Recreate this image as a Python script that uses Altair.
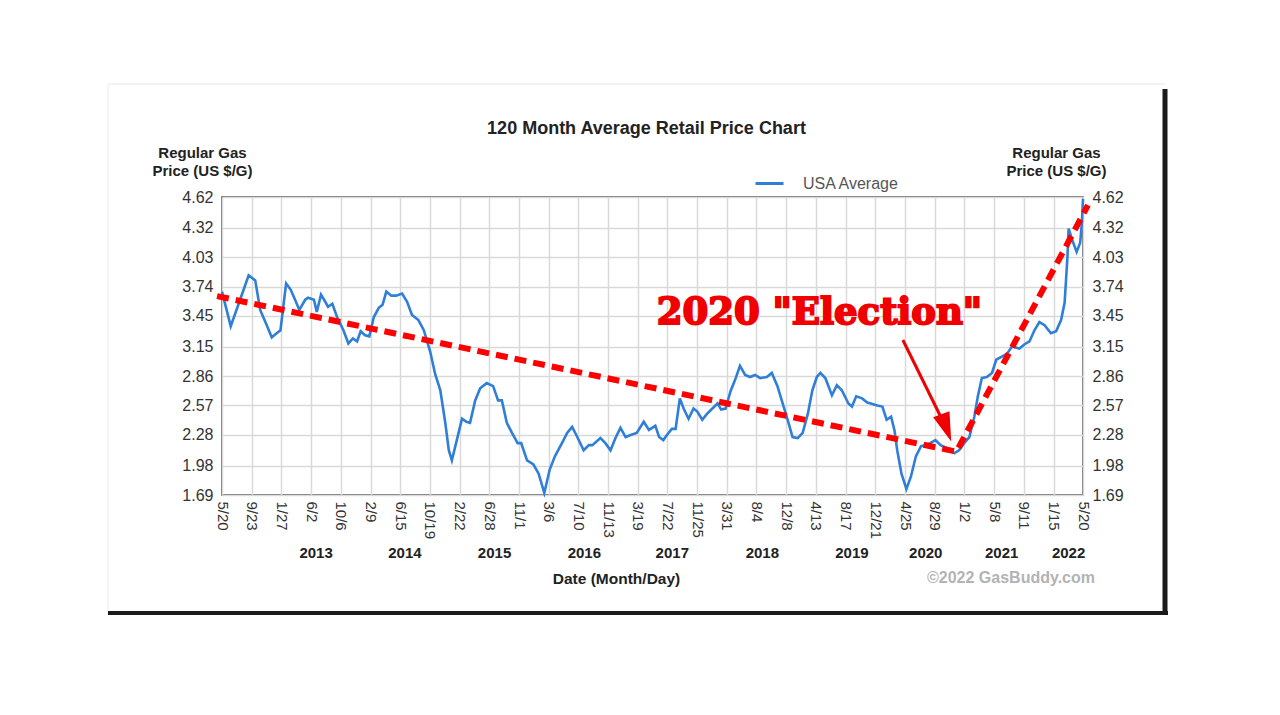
import altair as alt
import pandas as pd

FONT = "Liberation Sans"

# ---- weekly-ish USA average regular gas price ----
price_dates = [
    "2012-05-20", "2012-06-26", "2012-08-20", "2012-09-10", "2012-10-08", "2012-10-29",
    "2012-11-20", "2012-12-17", "2013-01-07", "2013-01-23", "2013-02-16", "2013-03-07",
    "2013-03-26", "2013-04-13", "2013-05-08", "2013-05-20", "2013-06-14", "2013-06-26",
    "2013-07-14", "2013-08-01", "2013-08-13", "2013-08-31", "2013-09-20", "2013-10-17",
    "2013-11-07", "2013-11-26", "2013-12-14", "2013-12-29", "2014-01-17", "2014-02-04",
    "2014-02-23", "2014-03-16", "2014-04-01", "2014-04-17", "2014-05-08", "2014-05-29",
    "2014-06-23", "2014-07-14", "2014-08-04", "2014-08-31", "2014-09-23", "2014-10-20",
    "2014-11-10", "2014-12-02", "2014-12-23", "2015-01-07", "2015-01-20", "2015-02-10",
    "2015-03-04", "2015-03-23", "2015-04-07", "2015-04-29", "2015-05-20", "2015-06-17",
    "2015-07-14", "2015-08-04", "2015-08-20", "2015-09-10", "2015-10-02", "2015-10-26",
    "2015-11-10", "2015-12-05", "2016-01-01", "2016-01-23", "2016-02-16", "2016-03-10",
    "2016-04-01", "2016-05-01", "2016-05-23", "2016-06-13", "2016-07-05", "2016-08-01",
    "2016-08-23", "2016-09-07", "2016-10-11", "2016-11-01", "2016-11-23", "2016-12-14",
    "2017-01-04", "2017-01-26", "2017-02-16", "2017-03-14", "2017-04-13", "2017-05-05",
    "2017-06-01", "2017-06-17", "2017-07-05", "2017-07-20", "2017-08-10", "2017-08-26",
    "2017-09-13", "2017-09-29", "2017-10-20", "2017-11-10", "2017-11-26", "2017-12-17",
    "2018-01-07", "2018-01-29", "2018-02-20", "2018-03-07", "2018-03-26", "2018-04-16",
    "2018-05-05", "2018-05-26", "2018-06-17", "2018-07-08", "2018-07-29", "2018-08-20",
    "2018-09-17", "2018-10-08", "2018-11-01", "2018-11-23", "2018-12-14", "2019-01-04",
    "2019-01-26", "2019-02-16", "2019-03-10", "2019-03-29", "2019-04-17", "2019-05-02",
    "2019-05-23", "2019-06-20", "2019-07-11", "2019-08-01", "2019-08-29", "2019-09-13",
    "2019-10-01", "2019-10-26", "2019-11-17", "2019-12-02", "2019-12-29", "2020-01-20",
    "2020-02-07", "2020-02-26", "2020-03-11", "2020-03-23", "2020-04-10", "2020-05-01",
    "2020-05-20", "2020-06-10", "2020-07-02", "2020-07-20", "2020-08-10", "2020-09-01",
    "2020-09-23", "2020-10-20", "2020-11-20", "2020-12-10", "2021-01-01", "2021-01-23",
    "2021-02-13", "2021-02-28", "2021-03-17", "2021-04-07", "2021-04-29", "2021-05-17",
    "2021-06-10", "2021-07-02", "2021-07-23", "2021-08-23", "2021-09-13", "2021-10-05",
    "2021-10-26", "2021-11-16", "2021-12-08", "2022-01-04", "2022-01-26", "2022-02-16",
    "2022-03-03", "2022-03-15", "2022-03-20", "2022-04-04", "2022-04-23", "2022-05-08",
    "2022-05-15", "2022-05-20",
]
price_values = [
    3.69, 3.35, 3.71, 3.85, 3.80, 3.51,
    3.39, 3.24, 3.28, 3.31, 3.77, 3.71,
    3.61, 3.51, 3.61, 3.63, 3.61, 3.49,
    3.66, 3.59, 3.54, 3.57, 3.44, 3.31,
    3.18, 3.23, 3.20, 3.30, 3.26, 3.25,
    3.44, 3.53, 3.56, 3.69, 3.65, 3.65,
    3.67, 3.59, 3.46, 3.41, 3.31, 3.10,
    2.88, 2.72, 2.40, 2.13, 2.03, 2.23,
    2.44, 2.41, 2.40, 2.62, 2.74, 2.79,
    2.76, 2.62, 2.62, 2.40, 2.30, 2.20,
    2.20, 2.03, 1.99, 1.90, 1.71, 1.94,
    2.07, 2.20, 2.30, 2.36, 2.26, 2.13,
    2.18, 2.18, 2.25, 2.20, 2.13, 2.25,
    2.35, 2.26, 2.28, 2.30, 2.41, 2.33,
    2.37, 2.26, 2.23, 2.28, 2.34, 2.34,
    2.64, 2.54, 2.44, 2.54, 2.51, 2.43,
    2.49, 2.54, 2.59, 2.53, 2.54, 2.71,
    2.82, 2.96, 2.87, 2.85, 2.87, 2.84,
    2.85, 2.89, 2.76, 2.59, 2.43, 2.26,
    2.25, 2.30, 2.49, 2.72, 2.85, 2.89,
    2.84, 2.67, 2.77, 2.72, 2.59, 2.56,
    2.66, 2.64, 2.60, 2.59, 2.57, 2.56,
    2.43, 2.46, 2.33, 2.13, 1.90, 1.75,
    1.87, 2.07, 2.17, 2.18, 2.20, 2.23,
    2.18, 2.15, 2.10, 2.13, 2.20, 2.26,
    2.46, 2.66, 2.84, 2.85, 2.89, 3.02,
    3.05, 3.08, 3.15, 3.13, 3.17, 3.20,
    3.31, 3.39, 3.36, 3.28, 3.30, 3.41,
    3.58, 4.03, 4.31, 4.20, 4.08, 4.17,
    4.36, 4.60,
]

# ---- axes ----
tick_dates = [
    "2012-05-20", "2012-09-23", "2013-01-27", "2013-06-02", "2013-10-06", "2014-02-09",
    "2014-06-15", "2014-10-19", "2015-02-22", "2015-06-28", "2015-11-01", "2016-03-06",
    "2016-07-10", "2016-11-13", "2017-03-19", "2017-07-22", "2017-11-25", "2018-03-31",
    "2018-08-04", "2018-12-08", "2019-04-13", "2019-08-17", "2019-12-21", "2020-04-25",
    "2020-08-29", "2021-01-02", "2021-05-08", "2021-09-11", "2022-01-15", "2022-05-20",
]
y_ticks = [1.69, 1.98, 2.28, 2.57, 2.86, 3.15, 3.45, 3.74, 4.03, 4.32, 4.62]
year_labels = ["2013", "2014", "2015", "2016", "2017", "2018", "2019", "2020", "2021", "2022"]
year_dates = ["2013-06-23", "2014-07-05", "2015-07-20", "2016-08-04", "2017-08-12",
              "2018-08-29", "2019-09-13", "2020-07-22", "2021-06-09", "2022-03-20"]

# ---- annotation (red dashed trend, arrow, label) ----
trend_dates = ["2012-04-29", "2020-11-29", "2022-06-10"]
trend_values = [3.646, 2.116, 4.54]
arrow_dates = ["2020-04-16", "2020-10-17"]
arrow_values = [3.214, 2.349]
label_text = ['2020 "Election"']
label_dates = ["2019-04-28"]
label_values = [3.376]


def ms(s):
    return int(pd.Timestamp(s, tz="UTC").value // 10**6)


x_scale = alt.Scale(type="utc", domain=[ms(tick_dates[0]), ms(tick_dates[-1])])
y_scale = alt.Scale(domain=[y_ticks[0], y_ticks[-1]], nice=False, zero=False)

price_df = pd.DataFrame({"date": price_dates, "value": price_values,
                         "series": ["USA Average"] * len(price_dates)})
trend_df = pd.DataFrame({"date": trend_dates, "value": trend_values})
arrow_df = pd.DataFrame({"date": arrow_dates, "value": arrow_values})
head_df = pd.DataFrame({"date": arrow_dates[-1:], "value": arrow_values[-1:]})
label_df = pd.DataFrame({"date": label_dates, "value": label_values, "text": label_text})
year_df = pd.DataFrame({"date": year_dates, "label": year_labels})
one = pd.DataFrame({"k": [0]})

y_title = ["Regular Gas", "Price (US $/G)"]

# card shadow / edges
shadow_bottom = alt.Chart(one).mark_rule(color="#1b1b1b", strokeWidth=4).encode(
    x=alt.value(-114), x2=alt.value(946), y=alt.value(416), y2=alt.value(416))
shadow_right = alt.Chart(one).mark_rule(color="#1b1b1b", strokeWidth=5).encode(
    x=alt.value(943), x2=alt.value(943), y=alt.value(-108), y2=alt.value(418))
edge_top = alt.Chart(one).mark_rule(color="#eeeeee", strokeWidth=1.5).encode(
    x=alt.value(-114), x2=alt.value(943), y=alt.value(-113), y2=alt.value(-113))
edge_left = alt.Chart(one).mark_rule(color="#f2f2f2", strokeWidth=1.5).encode(
    x=alt.value(-114), x2=alt.value(-114), y=alt.value(-113), y2=alt.value(416))

x_axis = alt.Axis(
    values=[ms(d) for d in tick_dates],
    labelExpr="utcFormat(datum.value, '%-m/%-d')",
    labelAngle=90, labelAlign="left", labelBaseline="middle", labelPadding=6,
    labelFontSize=15, labelColor="#333", labelOverlap=False, labelFlush=False,
    grid=True, orient="bottom",
    title="Date (Month/Day)", titleX=394, titleY=83, titleBaseline="middle",
    titleAlign="center", titleFontSize=15.5, titleFontWeight="bold", titleColor="#222")

X = alt.X("date:T", scale=x_scale, axis=x_axis)

line = alt.Chart(price_df).mark_line(strokeWidth=2.6).encode(
    x=X,
    y=alt.Y("value:Q", scale=y_scale, axis=alt.Axis(
        values=y_ticks, format=".2f", labelFontSize=16, labelColor="#333", labelPadding=9,
        labelOverlap=False, grid=True,
        title=y_title, titleAngle=0, titleAlign="center", titleBaseline="top",
        titleX=-20, titleY=-52, titleFontSize=15, titleFontWeight="bold",
        titleLineHeight=18, titleColor="#222")),
    color=alt.Color("series:N", scale=alt.Scale(domain=["USA Average"], range=["#2f7ed8"]),
                    legend=alt.Legend(orient="none", legendX=532, legendY=-29, title=None,
                                      symbolType="stroke", symbolSize=784,
                                      symbolStrokeWidth=3, labelFontSize=16,
                                      labelColor="#555", labelFont=FONT, labelOffset=18,
                                      padding=0)),
)

trend = alt.Chart(trend_df).mark_line(color="#ff0000", strokeWidth=6,
                                      strokeDash=[12, 7], clip=False).encode(
    x=X,
    y=alt.Y("value:Q", scale=y_scale, axis=alt.Axis(
        orient="right", values=y_ticks, format=".2f", labelFontSize=16, labelColor="#333",
        labelPadding=9, labelOverlap=False, grid=False,
        title=y_title, titleAngle=0, titleAlign="center", titleBaseline="top",
        titleX=-27, titleY=-52, titleFontSize=15, titleFontWeight="bold",
        titleLineHeight=18, titleColor="#222")),
)

arrow = alt.Chart(arrow_df).mark_line(color="#f00000", strokeWidth=3).encode(
    x=X,
    y=alt.Y("value:Q", scale=y_scale, axis=None),
)
head = alt.Chart(head_df).mark_point(shape="M-0.6,-1L0.6,-1L0,1Z", filled=True, size=841,
                                     angle=340, color="#f00000", opacity=1,
                                     strokeWidth=0).encode(
    x=X,
    y=alt.Y("value:Q", scale=y_scale, axis=None),
)

label = alt.Chart(label_df).mark_text(font="DejaVu Serif", fontWeight="bold", fontSize=37,
                                      color="#f00000", stroke="#f00000", strokeWidth=2,
                                      align="center", baseline="alphabetic").encode(
    x=X,
    y=alt.Y("value:Q", scale=y_scale, axis=None),
    text="text:N",
)

years = alt.Chart(year_df).mark_text(font=FONT, fontWeight="bold", fontSize=15,
                                     color="#222", align="center", baseline="middle").encode(
    x=X,
    y=alt.value(356),
    text="label:N",
)

copyright_ = alt.Chart(pd.DataFrame({"t": ["\u00a92022 GasBuddy.com"]})).mark_text(
    font=FONT, fontWeight="bold", fontSize=16, color="#b3b3b3",
    align="center", baseline="middle").encode(
    x=alt.value(789), y=alt.value(381), text="t:N")

chart = alt.layer(
    edge_top, edge_left, shadow_bottom, shadow_right,
    line, trend, arrow, head, label, years, copyright_,
).resolve_axis(y="independent").properties(
    width=861, height=298,
    autosize=alt.AutoSizeParams(type="none"),
    padding={"left": 214, "top": 189, "right": 180, "bottom": 205},
    background="white",
    title=alt.TitleParams("120 Month Average Retail Price Chart", font=FONT, fontSize=18,
                          fontWeight="bold", color="#222", anchor="middle", dx=-6,
                          dy=61, offset=6),
).configure_view(stroke="#444", strokeWidth=1.5).configure_axis(
    labelFont=FONT, titleFont=FONT, gridColor="#d9d9d9", gridWidth=1.5,
    domain=False, ticks=False,
)

chart.save("out.html", embed_options={"renderer": "svg", "actions": False})
